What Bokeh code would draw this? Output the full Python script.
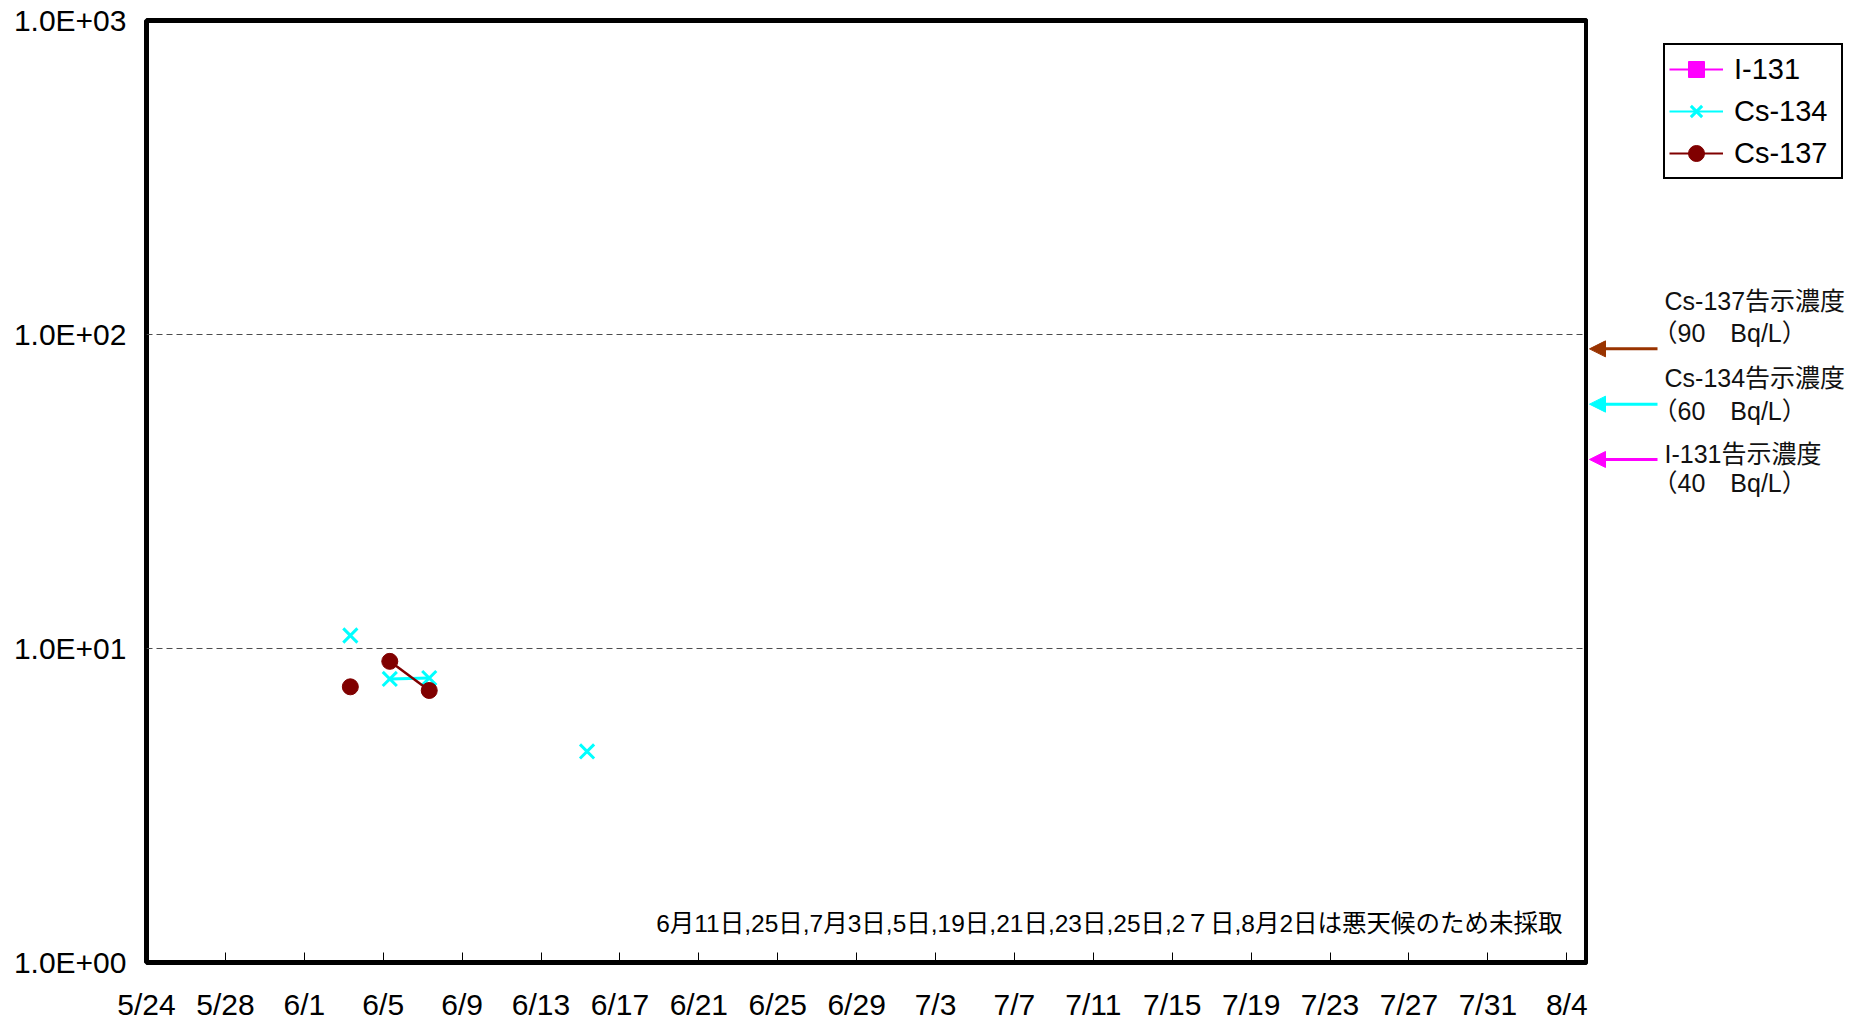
import numpy as np
import pandas as pd
from bokeh.plotting import figure
from bokeh.models import (FixedTicker, Range1d, Legend, LegendItem, Arrow,
                          NormalHead, Label)
from bokeh.layouts import row
from bokeh.embed import file_html
from bokeh.resources import INLINE

nan = np.nan

# ---------------- data ----------------
series = ["I-131", "Cs-134", "Cs-137"]
series_colors = ["#FF00FF", "#00FFFF", "#800000"]
series_markers = ["square", "x", "circle"]

sample_dates = ["2011-06-03 08:00", "2011-06-04 08:00", "2011-06-05 08:00",
                "2011-06-07 08:00", "2011-06-09 08:00", "2011-06-15 08:00"]
i131 = [nan, nan, nan, nan, nan, nan]
cs134 = [11.0, nan, 8.0, 8.05, nan, 4.7]
cs137 = [7.55, nan, 9.1, 7.35, nan, nan]

limit_values = [90, 60, 40]
limit_names = ["Cs-137告示濃度", "Cs-134告示濃度", "I-131告示濃度"]
limit_units = ["（90　Bq/L）", "（60　Bq/L）", "（40　Bq/L）"]
limit_colors = ["#993300", "#00FFFF", "#FF00FF"]

tick_dates = ["2011-05-24", "2011-05-28", "2011-06-01", "2011-06-05", "2011-06-09",
              "2011-06-13", "2011-06-17", "2011-06-21", "2011-06-25", "2011-06-29",
              "2011-07-03", "2011-07-07", "2011-07-11", "2011-07-15", "2011-07-19",
              "2011-07-23", "2011-07-27", "2011-07-31", "2011-08-04"]
tick_labels = ["5/24", "5/28", "6/1", "6/5", "6/9", "6/13", "6/17", "6/21", "6/25",
               "6/29", "7/3", "7/7", "7/11", "7/15", "7/19", "7/23", "7/27", "7/31", "8/4"]
y_ticks = [1, 10, 100, 1000]
y_tick_labels = ["1.0E+00", "1.0E+01", "1.0E+02", "1.0E+03"]

note = "6月11日,25日,7月3日,5日,19日,21日,23日,25日,2７日,8月2日は悪天候のため未採取"

# ---------------- figure ----------------
x = pd.to_datetime(sample_dates)
tick_ms = [int(v) for v in (pd.to_datetime(tick_dates).astype("int64") // 10**6)]
series_values = [i131, cs134, cs137]

FONT = "Liberation Sans"
MIXED = "Liberation Sans, Noto Sans CJK JP"

p = figure(x_axis_type="datetime", y_axis_type="log",
           x_range=Range1d(pd.Timestamp("2011-05-24"), pd.Timestamp("2011-08-05")),
           y_range=Range1d(1, 1000),
           frame_width=1440, frame_height=942,
           min_border_left=146, min_border_right=2, min_border_top=20, min_border_bottom=50,
           output_backend="svg", toolbar_location=None,
           background_fill_color="white", border_fill_color="white")

p.outline_line_color = "black"
p.outline_line_width = 5

p.xgrid.visible = False
p.ygrid.ticker = FixedTicker(ticks=[10, 100])
p.ygrid.grid_line_color = "#4d4d4d"
p.ygrid.grid_line_dash = "6 4"
p.ygrid.grid_line_width = 1

p.xaxis.ticker = FixedTicker(ticks=tick_ms)
p.xaxis.major_label_overrides = dict(zip(tick_ms, tick_labels))
p.xaxis.axis_line_color = None
p.xaxis.major_tick_in = 10
p.xaxis.major_tick_out = 0
p.xaxis.major_tick_line_color = "black"
p.xaxis.minor_tick_line_color = None
p.xaxis.major_label_standoff = 25
p.xaxis.major_label_text_font = FONT
p.xaxis.major_label_text_font_size = "30px"
p.xaxis.major_label_text_color = "black"

p.yaxis.ticker = FixedTicker(ticks=y_ticks)
p.yaxis.major_label_overrides = dict(zip(y_ticks, y_tick_labels))
p.yaxis.axis_line_color = None
p.yaxis.major_tick_in = 0
p.yaxis.major_tick_out = 0
p.yaxis.minor_tick_line_color = None
p.yaxis.major_label_standoff = 20
p.yaxis.major_label_text_font = FONT
p.yaxis.major_label_text_font_size = "30px"
p.yaxis.major_label_text_color = "black"

# data
p.line(x, i131, color=series_colors[0], line_width=2)
p.scatter(x, i131, marker="square", size=14, color=series_colors[0])
p.line(x, cs134, color=series_colors[1], line_width=3)
p.scatter(x, cs134, marker="x", size=20, line_width=3, color=series_colors[1])
p.line(x, cs137, color=series_colors[2], line_width=2.5)
p.scatter(x, cs137, marker="circle", size=16, color=series_colors[2])

p.add_layout(Label(x=1416, y=39, x_units="screen", y_units="screen", text=note,
                   text_align="right", text_baseline="middle",
                   text_font=MIXED, text_font_size="24.5px", text_color="black"))

# ---------------- right panel (legend, limit arrows) ----------------
p2 = figure(y_axis_type="log", x_range=Range1d(0, 267), y_range=p.y_range,
            frame_width=267, frame_height=942,
            min_border_left=0, min_border_right=0, min_border_top=20, min_border_bottom=50,
            x_axis_location=None, y_axis_location=None,
            output_backend="svg", toolbar_location=None,
            background_fill_color="white", border_fill_color="white")
p2.outline_line_color = None
p2.grid.visible = False

xm = [int(v) for v in (x.astype("int64") // 10**6)]   # far outside this panel's range
items = []
for name, c, m, vals in zip(series, series_colors, series_markers, series_values):
    lr = p2.line(x=xm, y=vals, color=c, line_width=2)
    if m == "x":
        sr = p2.scatter(x=xm, y=vals, marker=m, color=c, line_width=3)
    else:
        sr = p2.scatter(x=xm, y=vals, marker=m, color=c)
    items.append(LegendItem(label=name, renderers=[lr, sr]))

legend = Legend(items=items, location=(75, 783),
                glyph_width=54, glyph_height=40, spacing=2, padding=4,
                label_standoff=11, label_width=103,
                label_text_font=FONT, label_text_font_size="29px", label_text_color="black",
                border_line_color="black", border_line_width=2.5, border_line_alpha=1.0,
                background_fill_color="white", background_fill_alpha=1)
p2.add_layout(legend)

for v, c in zip(limit_values, limit_colors):
    p2.add_layout(Arrow(x_start=69, y_start=v, x_end=1, y_end=v,
                        line_color=c, line_width=3,
                        end=NormalHead(size=16, fill_color=c, line_color=c)))

text_pos = [(662, 630), (585, 552), (509, 480)]
for name, unit, (y1, y2) in zip(limit_names, limit_units, text_pos):
    p2.add_layout(Label(x=76, y=y1, x_units="screen", y_units="screen", text=name,
                        text_baseline="middle", text_font=MIXED,
                        text_font_size="25px", text_color="#111111"))
    p2.add_layout(Label(x=64, y=y2, x_units="screen", y_units="screen", text=unit,
                        text_baseline="middle", text_font=MIXED,
                        text_font_size="25px", text_color="#111111"))

layout = row(p, p2)
open("out.html", "w").write(file_html(layout, INLINE))
